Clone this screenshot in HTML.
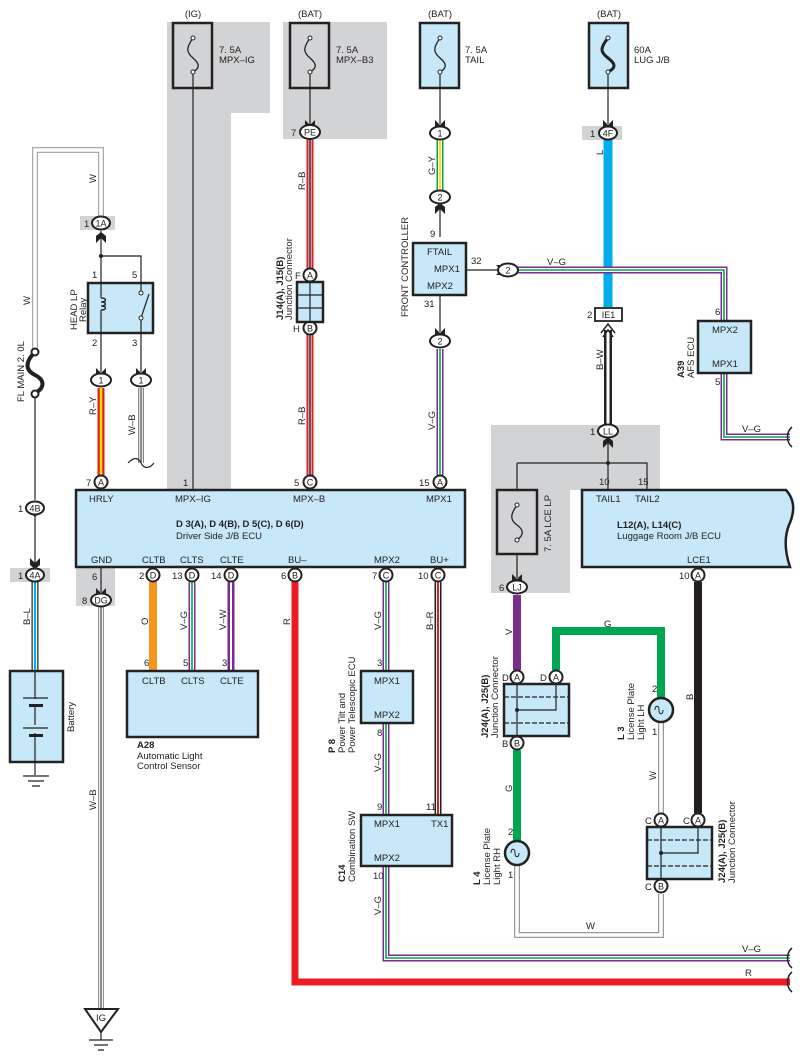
<!DOCTYPE html>
<html><head><meta charset="utf-8"><style>
html,body{margin:0;padding:0;background:#fff}
svg{display:block;font-family:"Liberation Sans",Arial,sans-serif}
.b{fill:#c6e8f9;stroke:#222;stroke-width:2.5}
.f{fill:#d2d3d5;stroke:#222;stroke-width:2.5}
.c{fill:#fff;stroke:#222;stroke-width:2}
.t{font-size:9.5px;fill:#222}
.tm{font-size:9.5px;fill:#222;text-anchor:middle}
.ct{font-size:9px;fill:#222;text-anchor:middle}
.bd{font-size:9.5px;font-weight:bold;fill:#222}
.ln{fill:none;stroke:#222;stroke-width:1.2}
</style></head><body>
<svg width="802" height="1062" viewBox="0 0 802 1062" xmlns="http://www.w3.org/2000/svg">
<defs>
<path id="ar" d="M-5,-6 L0,-1 L5,-6 L5,1 L0,5 L-5,1 Z" fill="#222"/>
</defs>
<path d="M167,22 H270 V113 H231 V489 H167 Z" fill="#d2d3d5"/>
<rect x="283" y="22" width="104" height="117" fill="#d2d3d5"/>
<path d="M491,425 H660 V490 H570 V593 H491 Z" fill="#d2d3d5"/>
<rect x="80" y="216" width="35" height="14" fill="#d2d3d5"/>
<rect x="80" y="501" width="35" height="14" fill="#d2d3d5"/>
<rect x="10" y="568" width="40" height="14" fill="#d2d3d5"/>
<rect x="76" y="568" width="39" height="38" fill="#d2d3d5"/>
<rect x="582" y="126" width="40" height="14" fill="#d2d3d5"/>

<text class="tm" x="193" y="17">(IG)</text>
<text class="tm" x="310" y="17">(BAT)</text>
<text class="tm" x="440" y="17">(BAT)</text>
<text class="tm" x="609" y="17">(BAT)</text>

<rect class="f" x="173" y="23" width="39" height="65"/>
<rect class="f" x="290" y="23" width="39" height="65"/>
<rect class="b" x="420" y="23" width="39" height="65"/>
<rect class="b" x="589" y="23" width="39" height="65"/>
<g fill="none" stroke="#222" stroke-width="1.3">
<path d="M193,38 C186,48 186,52 193,58 C200,64 200,68 193,72"/>
<path d="M310,38 C303,48 303,52 310,58 C317,64 317,68 310,72"/>
<path d="M440,38 C433,48 433,52 440,58 C447,64 447,68 440,72"/>
<path d="M608,38 C600,48 600,52 608,58 C616,64 616,68 608,72" stroke-width="3"/>
</g>
<g fill="#fff" stroke="#222" stroke-width="1"><circle cx="193" cy="38" r="2"/><circle cx="193" cy="72" r="2"/><circle cx="310" cy="38" r="2"/><circle cx="310" cy="72" r="2"/><circle cx="440" cy="38" r="2"/><circle cx="440" cy="72" r="2"/><circle cx="608" cy="38" r="2"/><circle cx="608" cy="72" r="2"/></g>
<text class="t" x="219" y="53">7. 5A</text><text class="t" x="219" y="63">MPX–IG</text>
<text class="t" x="336" y="53">7. 5A</text><text class="t" x="336" y="63">MPX–B3</text>
<text class="t" x="465" y="53">7. 5A</text><text class="t" x="465" y="63">TAIL</text>
<text class="t" x="634" y="53">60A</text><text class="t" x="634" y="63">LUG J/B</text>

<g class="ln">
<path d="M193,74 V489"/>
<path d="M310,74 V124"/>
<path d="M440,74 V124"/>
<path d="M608,74 V124"/>
<path d="M440,205 V237"/>
<path d="M440,292 V332"/>
<path d="M467,270 H498"/>
<path d="M101,231 V283 M101,256 H141 V283"/>
<path d="M101,333 V372 M141,333 V372"/>
<path d="M101,515 V490"/>
<path d="M608,440 V490 M517,463 H647 V490 M517,463 V578"/>
<path d="M101,567 V592"/>
</g>
<circle cx="101" cy="256" r="2" fill="#222"/><circle cx="608" cy="463" r="2" fill="#222"/>

<g fill="none">
<path d="M101,216 V150 H35 V350" stroke="#aaa" stroke-width="6"/>
<path d="M101,216 V150 H35 V350" stroke="#fff" stroke-width="3.5"/>
<path d="M35,395 V500" stroke="#222" stroke-width="1.2"/>
</g>
<text class="t" transform="translate(96,183) rotate(-90)">W</text>
<text class="t" transform="translate(30,305) rotate(-90)">W</text>
<path d="M35,352 C25,362 25,370 35,375 C45,380 45,388 35,393" fill="none" stroke="#222" stroke-width="4"/>
<circle cx="35" cy="352" r="3.5" fill="#fff" stroke="#222" stroke-width="2"/><circle cx="35" cy="394" r="3.5" fill="#fff" stroke="#222" stroke-width="2"/>
<text class="t" transform="translate(24,402) rotate(-90)">FL MAIN 2. 0L</text>

<rect class="b" x="88" y="283" width="65" height="50"/>
<path d="M101,298 c6,0 6,4 0,4 c6,0 6,4 0,4 c6,0 6,4 0,4" fill="none" stroke="#222" stroke-width="1.3"/>
<path d="M101,283 V298 M101,310 V333" stroke="#222" stroke-width="1.2"/>
<path d="M141,283 V293 M141,318 V333 M141,318 L149,294" stroke="#222" stroke-width="1.2" fill="none"/>
<circle cx="141" cy="293" r="2" fill="#fff" stroke="#222"/><circle cx="141" cy="318" r="2" fill="#fff" stroke="#222"/>
<text class="t" x="92" y="278">1</text><text class="t" x="132" y="278">5</text>
<text class="t" x="92" y="346">2</text><text class="t" x="132" y="346">3</text>
<text class="t" transform="translate(77,330) rotate(-90)">HEAD LP</text>
<text class="t" transform="translate(86,322) rotate(-90)">Relay</text>

<g fill="none">
<path d="M101,388 V475" stroke="#e31b23" stroke-width="7"/><path d="M101,388 V475" stroke="#ffe600" stroke-width="2.5"/>
<path d="M141,388 V463" stroke="#888" stroke-width="6"/><path d="M141,388 V463" stroke="#fff" stroke-width="3.5"/><path d="M141,388 V463" stroke="#222" stroke-width="1"/>
<path d="M128,463 c6,-6 10,-6 13,0 c3,6 8,6 13,0" stroke="#222" stroke-width="1.2"/>
<path d="M310,140 V274 M310,331 V475" stroke="#e31b23" stroke-width="7"/><path d="M310,140 V274 M310,331 V475" stroke="#fff" stroke-width="3"/><path d="M310,140 V274 M310,331 V475" stroke="#222" stroke-width="1.5"/>
<path d="M440,140 V190" stroke="#00a651" stroke-width="7"/><path d="M440,140 V190" stroke="#fff" stroke-width="4"/><path d="M440,140 V190" stroke="#ffe600" stroke-width="2"/>
<path d="M608,140 V307" stroke="#00aeef" stroke-width="9"/>
<path d="M608,330 V424" stroke="#222" stroke-width="8"/><path d="M608,330 V424" stroke="#fff" stroke-width="3"/>
<g>
<path d="M440,349 V475 M516,270 H724 V321 M724,373 V437 H790 M192,582 V671 M386,582 V671 M386,723 V815 M386,866 V958 H790" stroke="#7b2d8f" stroke-width="7"/>
<path d="M440,349 V475 M516,270 H724 V321 M724,373 V437 H790 M192,582 V671 M386,582 V671 M386,723 V815 M386,866 V958 H790" stroke="#fff" stroke-width="4"/>
<path d="M440,349 V475 M516,270 H724 V321 M724,373 V437 H790 M192,582 V671 M386,582 V671 M386,723 V815 M386,866 V958 H790" stroke="#00a651" stroke-width="1.6"/>
</g>
<path d="M231,582 V671" stroke="#7b2d8f" stroke-width="7"/><path d="M231,582 V671" stroke="#fff" stroke-width="2"/>
<path d="M153,582 V671" stroke="#f7941d" stroke-width="8"/>
<path d="M295,582 V982 H790" stroke="#ed1c24" stroke-width="7"/>
<path d="M438,582 V815" stroke="#222" stroke-width="7"/><path d="M438,582 V815" stroke="#fff" stroke-width="4"/><path d="M438,582 V815" stroke="#e31b23" stroke-width="2"/>
<path d="M35,582 V671" stroke="#222" stroke-width="7"/><path d="M35,582 V671" stroke="#fff" stroke-width="4.5"/><path d="M35,582 V671" stroke="#00aeef" stroke-width="2"/>
<path d="M35,516 V568" stroke="#222" stroke-width="1.2"/>
<path d="M101,607 V1010" stroke="#999" stroke-width="6"/><path d="M101,607 V1010" stroke="#fff" stroke-width="3.5"/><path d="M101,607 V1010" stroke="#222" stroke-width="1"/>
<path d="M517,595 V670" stroke="#7b2d8f" stroke-width="8"/>
<path d="M556,670 V631 H661 V698" stroke="#00a651" stroke-width="8"/>
<path d="M517,750 V841" stroke="#00a651" stroke-width="8"/>
<path d="M698,582 V813" stroke="#231f20" stroke-width="8"/>
<path d="M661,722 V813 M661,894 V935 H517 V866" stroke="#999" stroke-width="6"/><path d="M661,722 V813 M661,894 V935 H517 V866" stroke="#fff" stroke-width="3.5"/>
</g>
<path d="M792,427 c-6,5 -6,15 0,20 M792,948 c-6,5 -6,15 0,20 M792,972 c-6,5 -6,15 0,20" fill="none" stroke="#222" stroke-width="1.5"/>

<g class="t">
<text transform="translate(96,415) rotate(-90)">R–Y</text>
<text transform="translate(135,435) rotate(-90)">W–B</text>
<text transform="translate(305,190) rotate(-90)">R–B</text>
<text transform="translate(305,425) rotate(-90)">R–B</text>
<text transform="translate(435,175) rotate(-90)">G–Y</text>
<text transform="translate(435,430) rotate(-90)">V–G</text>
<text transform="translate(603,155) rotate(-90)">L</text>
<text transform="translate(603,370) rotate(-90)">B–W</text>
<text x="547" y="265">V–G</text>
<text x="742" y="432">V–G</text>
<text transform="translate(30,625) rotate(-90)">B–L</text>
<text transform="translate(96,810) rotate(-90)">W–B</text>
<text transform="translate(148,625) rotate(-90)">O</text>
<text transform="translate(187,630) rotate(-90)">V–G</text>
<text transform="translate(226,630) rotate(-90)">V–W</text>
<text transform="translate(290,625) rotate(-90)">R</text>
<text transform="translate(381,630) rotate(-90)">V–G</text>
<text transform="translate(381,772) rotate(-90)">V–G</text>
<text transform="translate(381,915) rotate(-90)">V–G</text>
<text transform="translate(433,630) rotate(-90)">B–R</text>
<text x="742" y="952">V–G</text>
<text x="745" y="976">R</text>
<text transform="translate(512,635) rotate(-90)">V</text>
<text x="604" y="627">G</text>
<text transform="translate(512,792) rotate(-90)">G</text>
<text transform="translate(693,700) rotate(-90)">B</text>
<text transform="translate(656,780) rotate(-90)">W</text>
<text x="586" y="929">W</text>
</g>

<use href="#ar" x="310" y="126"/><use href="#ar" x="440" y="126"/><use href="#ar" x="608" y="126"/>
<use href="#ar" x="440" y="334"/><use href="#ar" x="101" y="374"/><use href="#ar" x="141" y="374"/>
<use href="#ar" x="101" y="594"/><use href="#ar" x="517" y="580"/><use href="#ar" x="35" y="564"/>
<use href="#ar" x="35" y="512"/>
<use href="#ar" transform="translate(101,237) rotate(180)"/><use href="#ar" transform="translate(440,208) rotate(180)"/><use href="#ar" transform="translate(608,442) rotate(180)"/>
<use href="#ar" transform="translate(502,270) rotate(-90)"/>
<path d="M601,333 L608,324 L615,333 M603,337 L608,330 L613,337" fill="none" stroke="#222" stroke-width="1.5"/>

<g>
<ellipse class="c" cx="101" cy="223" rx="9" ry="6.5"/><text class="ct" x="101" y="226.5">1A</text><text class="t" x="84" y="227">1</text>
<ellipse class="c" cx="310" cy="132" rx="10" ry="7"/><text class="ct" x="310" y="135.5">PE</text><text class="t" x="291" y="136">7</text>
<ellipse class="c" cx="440" cy="133" rx="10" ry="6.5"/><text class="ct" x="440" y="136.5">1</text>
<ellipse class="c" cx="440" cy="197" rx="10" ry="6.5"/><text class="ct" x="440" y="200.5">2</text>
<ellipse class="c" cx="608" cy="133" rx="9" ry="6.5"/><text class="ct" x="608" y="136.5">4F</text><text class="t" x="590" y="137">1</text>
<ellipse class="c" cx="508" cy="270" rx="10" ry="6.5"/><text class="ct" x="508" y="273.5">2</text>
<ellipse class="c" cx="440" cy="341" rx="10" ry="6.5"/><text class="ct" x="440" y="344.5">2</text>
<rect x="595" y="308" width="27" height="13" fill="#fff" stroke="#222" stroke-width="1.8"/><text class="ct" x="608.5" y="318">IE1</text><text class="t" x="587" y="318">2</text>
<ellipse class="c" cx="608" cy="431" rx="10" ry="6.5"/><text class="ct" x="608" y="434.5">LL</text><text class="t" x="590" y="435">1</text>
<ellipse class="c" cx="101" cy="380" rx="10" ry="6.5"/><text class="ct" x="101" y="383.5">1</text>
<ellipse class="c" cx="141" cy="380" rx="10" ry="6.5"/><text class="ct" x="141" y="383.5">1</text>
<ellipse class="c" cx="35" cy="508" rx="9" ry="6.5"/><text class="ct" x="35" y="511.5">4B</text><text class="t" x="18" y="512">1</text>
<ellipse class="c" cx="35" cy="575" rx="9" ry="6.5"/><text class="ct" x="35" y="578.5">4A</text><text class="t" x="18" y="579">1</text>
<ellipse class="c" cx="101" cy="600" rx="10" ry="6.5"/><text class="ct" x="101" y="603.5">DG</text><text class="t" x="82" y="604">8</text><text class="t" x="92" y="580">6</text>
<ellipse class="c" cx="517" cy="587" rx="10" ry="6.5"/><text class="ct" x="517" y="590.5">LJ</text><text class="t" x="499" y="591">6</text>
</g>
<g>
<circle class="c" cx="101" cy="482" r="6.5"/><text class="ct" x="101" y="485.5">A</text><text class="t" x="86" y="486">7</text>
<text class="t" x="183" y="486">1</text>
<circle class="c" cx="310" cy="482" r="6.5"/><text class="ct" x="310" y="485.5">C</text><text class="t" x="294" y="486">5</text>
<circle class="c" cx="440" cy="482" r="6.5"/><text class="ct" x="440" y="485.5">A</text><text class="t" x="419" y="486">15</text>
<circle class="c" cx="153" cy="575" r="6.5"/><text class="ct" x="153" y="578.5">D</text><text class="t" x="139" y="579">2</text>
<circle class="c" cx="192" cy="575" r="6.5"/><text class="ct" x="192" y="578.5">D</text><text class="t" x="172" y="579">13</text>
<circle class="c" cx="231" cy="575" r="6.5"/><text class="ct" x="231" y="578.5">D</text><text class="t" x="211" y="579">14</text>
<circle class="c" cx="295" cy="575" r="6.5"/><text class="ct" x="295" y="578.5">B</text><text class="t" x="281" y="579">6</text>
<circle class="c" cx="386" cy="575" r="6.5"/><text class="ct" x="386" y="578.5">C</text><text class="t" x="372" y="579">7</text>
<circle class="c" cx="438" cy="575" r="6.5"/><text class="ct" x="438" y="578.5">C</text><text class="t" x="418" y="579">10</text>
<circle class="c" cx="698" cy="575" r="6.5"/><text class="ct" x="698" y="578.5">A</text><text class="t" x="679" y="579">10</text>
<circle class="c" cx="310" cy="275" r="6.5"/><text class="ct" x="310" y="278.5">A</text><text class="t" x="295" y="279">F</text>
<circle class="c" cx="310" cy="328" r="6.5"/><text class="ct" x="310" y="331.5">B</text><text class="t" x="293" y="332">H</text>
</g>

<rect class="b" x="297" y="282" width="26" height="40" stroke-width="2"/>
<path d="M297,295 H323 M297,308 H323 M310,282 V322" stroke="#222" stroke-width="1.2"/>
<text class="bd" transform="translate(283,320) rotate(-90)">J14(A), J15(B)</text>
<text class="t" transform="translate(292,320) rotate(-90)">Junction Connector</text>

<rect class="b" x="413" y="243" width="53" height="52"/>
<text class="t" x="427" y="255">FTAIL</text><text class="t" x="434" y="272">MPX1</text><text class="t" x="427" y="289">MPX2</text>
<text class="t" x="430" y="237">9</text><text class="t" x="471" y="264">32</text><text class="t" x="424" y="307">31</text>
<text class="t" transform="translate(408,317) rotate(-90)">FRONT CONTROLLER</text>

<rect class="b" x="698" y="321" width="53" height="52"/>
<text class="t" x="712" y="333">MPX2</text><text class="t" x="712" y="367">MPX1</text>
<text class="t" x="715" y="315">6</text><text class="t" x="715" y="385">5</text>
<text class="bd" transform="translate(684,378) rotate(-90)">A39</text>
<text class="t" transform="translate(694,378) rotate(-90)">AFS ECU</text>

<rect class="b" x="76" y="490" width="389" height="77"/>
<text class="t" x="89" y="502">HRLY</text><text class="t" x="175" y="502">MPX–IG</text><text class="t" x="293" y="502">MPX–B</text><text class="t" x="426" y="502">MPX1</text>
<text class="bd" x="176" y="527">D 3(A), D 4(B), D 5(C), D 6(D)</text>
<text class="t" x="176" y="539">Driver Side J/B ECU</text>
<text class="t" x="91" y="563">GND</text><text class="t" x="142" y="563">CLTB</text><text class="t" x="180" y="563">CLTS</text><text class="t" x="220" y="563">CLTE</text><text class="t" x="288" y="563">BU–</text><text class="t" x="374" y="563">MPX2</text><text class="t" x="430" y="563">BU+</text>

<rect class="f" x="497" y="490" width="40" height="64" stroke-width="2.2"/>
<path d="M517,505 C510,515 510,520 517,525 C524,530 524,535 517,540" fill="none" stroke="#222" stroke-width="1.3"/>
<circle cx="517" cy="505" r="2" fill="#fff" stroke="#222"/><circle cx="517" cy="540" r="2" fill="#fff" stroke="#222"/>
<text class="t" transform="translate(551,552) rotate(-90)">7. 5A LCE LP</text>

<path d="M582,490 H786 C795,500 795,512 789,525 C783,540 786,555 790,567 H582 Z" class="b"/>
<text class="t" x="596" y="502">TAIL1</text><text class="t" x="635" y="502">TAIL2</text>
<text class="t" x="599" y="485">10</text><text class="t" x="638" y="485">15</text>
<text class="bd" x="617" y="528">L12(A), L14(C)</text>
<text class="t" x="617" y="539">Luggage Room J/B ECU</text>
<text class="t" x="687" y="563">LCE1</text>

<rect class="b" x="504" y="684" width="65" height="52" stroke-width="2"/>
<path d="M504,697 H569 M504,723 H569" stroke="#222" stroke-width="1.2" stroke-dasharray="5,2"/>
<path d="M517,684 V736 M517,710 H556 V684" fill="none" stroke="#222" stroke-width="1.2"/>
<circle cx="517" cy="710" r="2" fill="#222"/>
<circle class="c" cx="517" cy="677" r="6.5"/><text class="ct" x="517" y="680.5">A</text><text class="t" x="502" y="681">D</text>
<circle class="c" cx="556" cy="677" r="6.5"/><text class="ct" x="556" y="680.5">A</text><text class="t" x="540" y="681">D</text>
<circle class="c" cx="517" cy="743" r="6.5"/><text class="ct" x="517" y="746.5">B</text><text class="t" x="502" y="747">B</text>
<text class="bd" transform="translate(488,738) rotate(-90)">J24(A), J25(B)</text>
<text class="t" transform="translate(498,738) rotate(-90)">Junction Connector</text>

<rect class="b" x="647" y="827" width="65" height="52" stroke-width="2"/>
<path d="M647,840 H712 M647,866 H712" stroke="#222" stroke-width="1.2" stroke-dasharray="5,2"/>
<path d="M661,827 V879 M661,853 H698 V827" fill="none" stroke="#222" stroke-width="1.2"/>
<circle cx="661" cy="853" r="2" fill="#222"/>
<circle class="c" cx="661" cy="820" r="6.5"/><text class="ct" x="661" y="823.5">A</text><text class="t" x="645" y="824">C</text>
<circle class="c" cx="698" cy="820" r="6.5"/><text class="ct" x="698" y="823.5">A</text><text class="t" x="683" y="824">C</text>
<circle class="c" cx="661" cy="886" r="6.5"/><text class="ct" x="661" y="889.5">B</text><text class="t" x="645" y="890">C</text>
<text class="bd" transform="translate(725,883) rotate(-90)">J24(A), J25(B)</text>
<text class="t" transform="translate(735,883) rotate(-90)">Junction Connector</text>

<circle class="b" cx="661" cy="710" r="12" stroke-width="2"/>
<path d="M655,710 c0,-5 4,-5 4,0 c0,5 4,5 4,0" fill="none" stroke="#222"/>
<text class="t" x="652" y="692">2</text><text class="t" x="652" y="735">1</text>
<text class="bd" transform="translate(624,740) rotate(-90)">L 3</text>
<text class="t" transform="translate(634,740) rotate(-90)">License Plate</text>
<text class="t" transform="translate(644,740) rotate(-90)">Light LH</text>
<circle class="b" cx="517" cy="853" r="12" stroke-width="2"/>
<path d="M511,853 c0,-5 4,-5 4,0 c0,5 4,5 4,0" fill="none" stroke="#222"/>
<text class="t" x="508" y="835">2</text><text class="t" x="508" y="878">1</text>
<text class="bd" transform="translate(480,885) rotate(-90)">L 4</text>
<text class="t" transform="translate(490,885) rotate(-90)">License Plate</text>
<text class="t" transform="translate(500,885) rotate(-90)">Light RH</text>

<rect class="b" x="10" y="671" width="53" height="91"/>
<path d="M35,671 V699 M23,698 H48 M35,706 V725 M23,728 H48 M35,733 V762" stroke="#222" stroke-width="1.2"/>
<rect x="29" y="704" width="14" height="3" fill="#222"/><rect x="29" y="734" width="14" height="3" fill="#222"/>
<path d="M35,762 V775 M23,776 H49 M28,781 H44 M32,786 H40" stroke="#222" stroke-width="1.2"/>
<text class="t" transform="translate(74,732) rotate(-90)">Battery</text>

<rect class="b" x="127" y="671" width="131" height="66"/>
<text class="t" x="142" y="684">CLTB</text><text class="t" x="181" y="684">CLTS</text><text class="t" x="220" y="684">CLTE</text>
<text class="t" x="144" y="666">6</text><text class="t" x="183" y="666">5</text><text class="t" x="222" y="666">3</text>
<text class="bd" x="137" y="748">A28</text>
<text class="t" x="137" y="759">Automatic Light</text><text class="t" x="137" y="769">Control Sensor</text>

<rect class="b" x="361" y="671" width="52" height="52"/>
<text class="t" x="374" y="684">MPX1</text><text class="t" x="374" y="718">MPX2</text>
<text class="t" x="377" y="666">3</text><text class="t" x="377" y="736">8</text>
<text class="bd" transform="translate(335,753) rotate(-90)">P 8</text>
<text class="t" transform="translate(345,753) rotate(-90)">Power Tilt and</text>
<text class="t" transform="translate(355,753) rotate(-90)">Power Telescopic ECU</text>

<rect class="b" x="361" y="815" width="91" height="51"/>
<text class="t" x="374" y="827">MPX1</text><text class="t" x="431" y="827">TX1</text><text class="t" x="374" y="861">MPX2</text>
<text class="t" x="377" y="810">9</text><text class="t" x="426" y="810">11</text><text class="t" x="373" y="879">10</text>
<text class="bd" transform="translate(345,882) rotate(-90)">C14</text>
<text class="t" transform="translate(355,882) rotate(-90)">Combination SW</text>

<path d="M85,1009 H118 L101,1032 Z" fill="#fff" stroke="#222" stroke-width="2"/>
<text class="tm" x="101" y="1021">IG</text>
<path d="M101,1032 V1040 M89,1040 H113 M94,1045 H108 M98,1050 H104" stroke="#222" stroke-width="1.2"/>
</svg>
</body></html>
